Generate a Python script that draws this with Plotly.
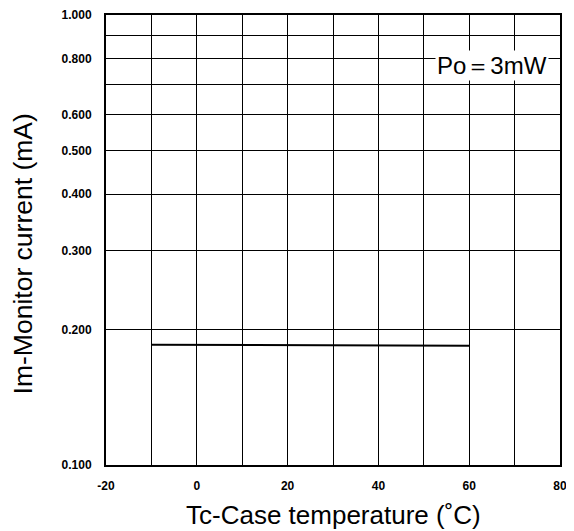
import plotly.graph_objects as go

# Data
temp_c = [-10, 60]
monitor_ma = [0.185, 0.184]

x_tickvals = [-20, -10, 0, 10, 20, 30, 40, 50, 60, 70, 80]
x_ticktext = ["-20", "", "0", "", "20", "", "40", "", "60", "", "80"]
y_tickvals = [0.1, 0.2, 0.3, 0.4, 0.5, 0.6, 0.7, 0.8, 0.9, 1.0]
y_ticktext = ["0.100", "0.200", "0.300", "0.400", "0.500", "0.600", "", "0.800", "", "1.000"]

FONT = "Liberation Sans, Arial, sans-serif"
tickfont = dict(size=12, family=FONT, weight="bold", color="black")

fig = go.Figure()
fig.add_trace(go.Scatter(x=temp_c, y=monitor_ma, mode="lines",
                         line=dict(color="black", width=2), showlegend=False))

fig.add_annotation(x=0.85, y=0.888, xref="paper", yref="paper",
                   text="Po＝3mW", showarrow=False, bgcolor="white",
                   font=dict(family=FONT, size=24, color="black"),
                   xanchor="center", yanchor="middle", borderpad=1)

# axis titles
fig.add_annotation(x=0.5, y=0, xref="paper", yref="paper", yshift=-50,
                   text="Tc-Case temperature (˚C)", showarrow=False,
                   font=dict(family=FONT, size=26, color="black"),
                   xanchor="center", yanchor="middle")
fig.add_annotation(x=0, y=0.468, xref="paper", yref="paper", xshift=-83,
                   text="Im-Monitor current (mA)", showarrow=False, textangle=-90,
                   font=dict(family=FONT, size=26.5, color="black"),
                   xanchor="center", yanchor="middle")

fig.update_layout(
    width=574, height=531,
    margin=dict(l=98, r=22, t=7, b=74),
    paper_bgcolor="white", plot_bgcolor="white",
    font=dict(family=FONT, color="black"),
    xaxis=dict(range=[-20, 80], tickvals=x_tickvals, ticktext=x_ticktext,
               showgrid=True, gridcolor="black", gridwidth=1.3,
               showline=True, linecolor="black", linewidth=2, mirror=True,
               ticks="outside", ticklen=9, tickcolor="rgba(0,0,0,0)",
               zeroline=False, automargin=False, tickfont=tickfont,
               ticklabeloverflow="allow"),
    yaxis=dict(type="log", range=[-1, 0], tickvals=y_tickvals, ticktext=y_ticktext,
               showgrid=True, gridcolor="black", gridwidth=1.3,
               showline=True, linecolor="black", linewidth=2, mirror=True,
               ticks="outside", ticklen=10, tickcolor="rgba(0,0,0,0)",
               zeroline=False, automargin=False, tickfont=tickfont,
               ticklabeloverflow="allow"),
)

fig.write_html("out.html")
